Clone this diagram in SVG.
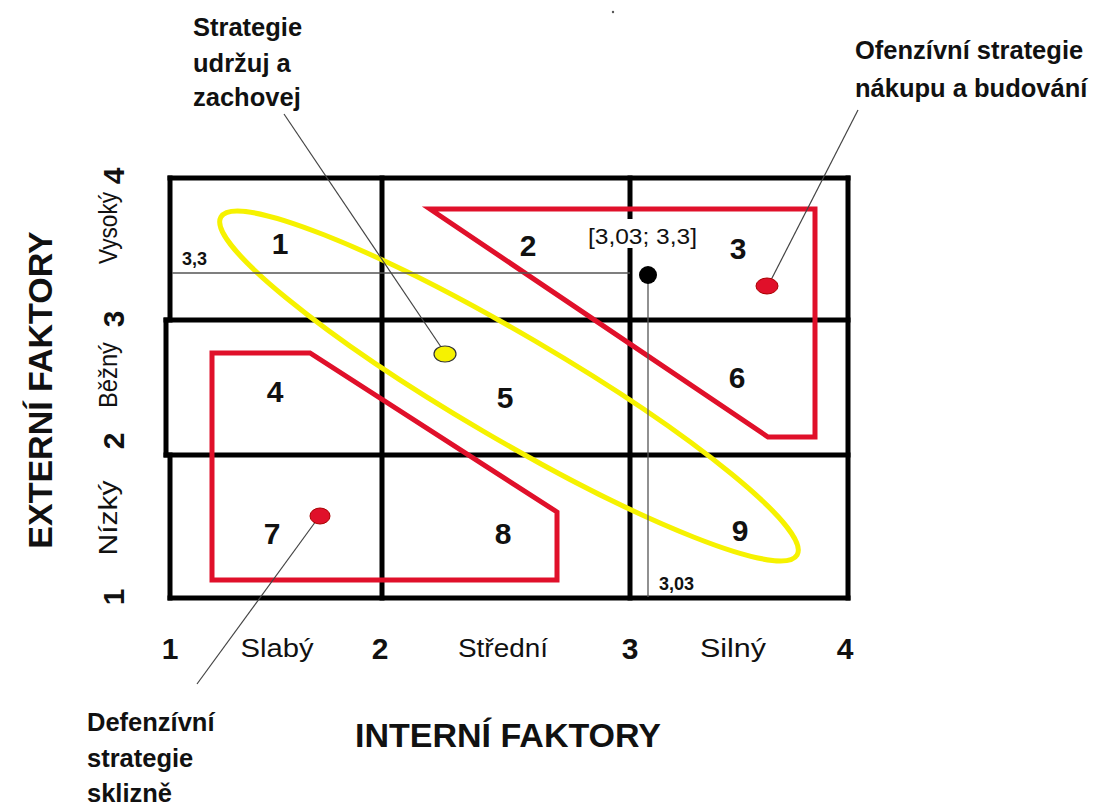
<svg xmlns="http://www.w3.org/2000/svg" width="1100" height="806" viewBox="0 0 1100 806">
  <style>
    .grid { stroke: #000; stroke-width: 5; stroke-linecap: square; fill: none; }
    .thin { stroke: #555; stroke-width: 1.3; fill: none; }
    .lead { stroke: #444; stroke-width: 1.2; fill: none; }
    .zone { stroke: #e0102a; stroke-width: 5; fill: none; stroke-linejoin: miter; }
    .band { stroke: #f6f200; stroke-width: 5; fill: none; }
    .cell { font-family: "Liberation Sans", Arial, sans-serif; font-weight: bold; font-size: 30px; fill: #111; text-anchor: middle; }
    .tick { font-family: "Liberation Sans", Arial, sans-serif; font-weight: bold; font-size: 30px; fill: #111; text-anchor: middle; }
    .lvl { font-family: "Liberation Sans", Arial, sans-serif; font-size: 25px; fill: #111; text-anchor: middle; }
    .title { font-family: "Liberation Sans", Arial, sans-serif; font-weight: bold; font-size: 34px; fill: #111; text-anchor: middle; }
    .note { font-family: "Liberation Sans", Arial, sans-serif; font-weight: bold; font-size: 25.5px; fill: #111; }
    .small { font-family: "Liberation Sans", Arial, sans-serif; font-weight: bold; font-size: 18px; fill: #111; }
    .coord { font-family: "Liberation Sans", Arial, sans-serif; font-size: 22px; fill: #111; }
  </style>

  <rect width="1100" height="806" fill="#fff"/>

  <!-- 3x3 matrix -->
  <g id="matrix">
    <line class="grid" x1="170" y1="178" x2="848" y2="178"/>
    <line class="grid" x1="848" y1="178" x2="848" y2="598"/>
    <line class="grid" x1="170" y1="598" x2="848" y2="598"/>
    <line class="grid" x1="170" y1="178" x2="170" y2="320"/>
    <line class="grid" x1="166" y1="320" x2="166" y2="455"/>
    <line class="grid" x1="170" y1="455" x2="170" y2="598"/>
    <line class="grid" x1="166" y1="320" x2="848" y2="320"/>
    <line class="grid" x1="166" y1="455" x2="848" y2="455"/>
    <line class="grid" x1="382" y1="178" x2="382" y2="598"/>
    <line class="grid" x1="630" y1="178" x2="630" y2="598"/>
  </g>

  <!-- cell numbers -->
  <g id="cells">
    <text class="cell" x="280" y="254">1</text>
    <text class="cell" x="528" y="256">2</text>
    <text class="cell" x="738" y="259">3</text>
    <text class="cell" x="275" y="402">4</text>
    <text class="cell" x="505" y="408">5</text>
    <text class="cell" x="737" y="388">6</text>
    <text class="cell" x="272" y="544">7</text>
    <text class="cell" x="503" y="544">8</text>
    <text class="cell" x="740" y="541">9</text>
  </g>

  <!-- strategy zones -->
  <g id="zone-offensive">
    <polygon class="zone" points="430,209 815,209 815,437 768,437"/>
  </g>
  <g id="zone-defensive">
    <polygon class="zone" points="212,353 310,353 557,512 557,580 212,580"/>
  </g>
  <g id="zone-hold">
    <ellipse class="band" cx="509" cy="386" rx="334" ry="52" transform="rotate(30.4 509 386)"/>
  </g>

  <!-- position of the company -->
  <g id="position">
    <line class="thin" x1="172" y1="273" x2="630" y2="273"/>
    <line class="thin" x1="648" y1="275" x2="648" y2="597"/>
    <circle cx="648" cy="275" r="9" fill="#000"/>
    <text class="small" x="182" y="265">3,3</text>
    <text class="small" x="659" y="590">3,03</text>
    <rect x="586" y="219" width="113" height="29" fill="#fff"/>
    <text class="coord" x="588" y="244" textLength="109" lengthAdjust="spacingAndGlyphs">[3,03; 3,3]</text>
  </g>

  <!-- callout markers and leader lines -->
  <g id="connectors">
    <line class="lead" x1="284" y1="114" x2="441" y2="347"/>
    <line class="lead" x1="770" y1="282" x2="858" y2="110"/>
    <line class="lead" x1="316" y1="521" x2="197" y2="684"/>
  </g>
  <g id="marker-hold">
    <ellipse cx="445" cy="354" rx="11" ry="8" fill="#f6f200" stroke="#333" stroke-width="1.2"/>
  </g>
  <g id="marker-offensive">
    <ellipse cx="767" cy="286" rx="11" ry="8" fill="#e0102a" stroke="#a00" stroke-width="1"/>
  </g>
  <g id="marker-defensive">
    <ellipse cx="320" cy="516" rx="10" ry="8" fill="#e0102a" stroke="#a00" stroke-width="1"/>
  </g>

  <!-- strategy labels -->
  <g id="label-hold">
    <text class="note" x="193" y="36">Strategie</text>
    <text class="note" x="193" y="72">udržuj a</text>
    <text class="note" x="193" y="106">zachovej</text>
  </g>
  <g id="label-offensive">
    <text class="note" x="855" y="59">Ofenzívní strategie</text>
    <text class="note" x="855" y="97">nákupu a budování</text>
  </g>
  <g id="label-defensive">
    <text class="note" x="87" y="731">Defenzívní</text>
    <text class="note" x="87" y="767">strategie</text>
    <text class="note" x="87" y="802">sklizně</text>
  </g>

  <!-- horizontal axis -->
  <g id="axis-x">
    <text class="tick" x="170" y="659">1</text>
    <text class="lvl" x="277" y="657" textLength="73" lengthAdjust="spacingAndGlyphs">Slabý</text>
    <text class="tick" x="380" y="659">2</text>
    <text class="lvl" x="503" y="657" textLength="90" lengthAdjust="spacingAndGlyphs">Střední</text>
    <text class="tick" x="630" y="659">3</text>
    <text class="lvl" x="733" y="657" textLength="66" lengthAdjust="spacingAndGlyphs">Silný</text>
    <text class="tick" x="845" y="659">4</text>
    <text class="title" x="508" y="747">INTERNÍ FAKTORY</text>
  </g>

  <!-- vertical axis -->
  <g id="axis-y">
    <text class="tick" transform="translate(124 597) rotate(-90)">1</text>
    <text class="lvl" transform="translate(117 518) rotate(-90)" textLength="75" lengthAdjust="spacingAndGlyphs">Nízký</text>
    <text class="tick" transform="translate(124 441) rotate(-90)">2</text>
    <text class="lvl" transform="translate(117 375) rotate(-90)" textLength="66" lengthAdjust="spacingAndGlyphs">Běžný</text>
    <text class="tick" transform="translate(124 319) rotate(-90)">3</text>
    <text class="lvl" transform="translate(117 228) rotate(-90)" textLength="72" lengthAdjust="spacingAndGlyphs">Vysoký</text>
    <text class="tick" transform="translate(124 176) rotate(-90)">4</text>
    <text class="title" transform="translate(52 390) rotate(-90)">EXTERNÍ FAKTORY</text>
  </g>

  <circle cx="613" cy="12" r="1.2" fill="#555"/>
</svg>
